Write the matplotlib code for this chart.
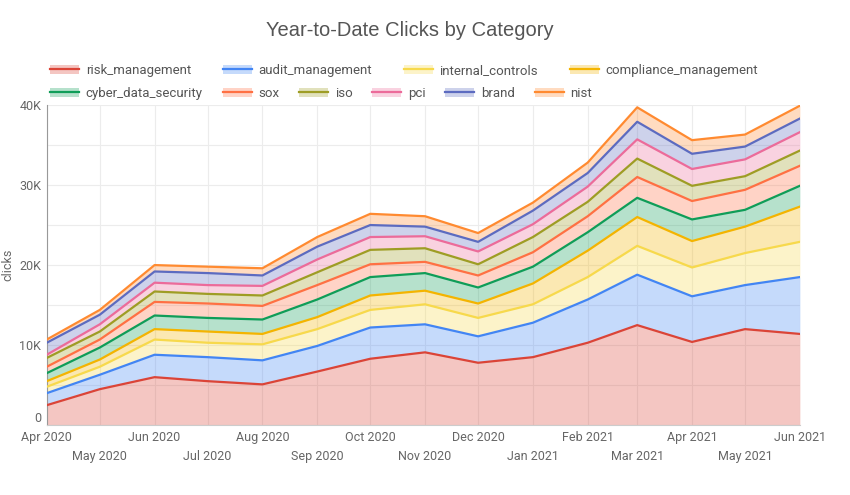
import numpy as np
import matplotlib
matplotlib.use('Agg')
import matplotlib.pyplot as plt
import matplotlib.dates as mdates
import pandas as pd
from matplotlib.patches import Patch
from matplotlib.lines import Line2D
from matplotlib.ticker import FixedLocator, FuncFormatter

# monthly points, Apr 2020 - Jun 2021
months = pd.date_range('2020-04-01', '2021-06-01', freq='MS')

categories = ['risk_management', 'audit_management', 'internal_controls',
              'compliance_management', 'cyber_data_security', 'sox', 'iso',
              'pci', 'brand', 'nist']

# clicks per category
risk_management = [2500, 4500, 6000, 5500, 5100, 6700, 8300, 9100, 7800, 8500, 10300, 12500, 10400, 12000, 11400]
audit_management = [1500, 1800, 2800, 3000, 3000, 3200, 3900, 3500, 3300, 4300, 5400, 6300, 5700, 5500, 7100]
internal_controls = [800, 1000, 1900, 1800, 2000, 2100, 2200, 2500, 2300, 2300, 2800, 3600, 3600, 4000, 4400]
compliance_management = [700, 900, 1300, 1400, 1300, 1500, 1800, 1700, 1800, 2600, 3300, 3600, 3300, 3300, 4400]
cyber_data_security = [1000, 1500, 1700, 1700, 1800, 2200, 2300, 2200, 2000, 2100, 2300, 2400, 2700, 2100, 2600]
sox = [800, 1000, 1700, 1800, 1700, 1800, 1600, 1400, 1500, 1800, 2000, 2600, 2300, 2500, 2500]
iso = [1100, 1000, 1300, 1200, 1300, 1600, 1800, 1700, 1400, 1900, 1800, 2300, 1900, 1700, 1900]
pci = [400, 900, 1100, 1100, 1200, 1600, 1600, 1500, 1600, 1600, 1900, 2400, 2100, 2100, 2300]
brand = [1500, 1200, 1400, 1500, 1300, 1600, 1500, 1200, 1200, 1700, 1700, 2200, 1900, 1600, 1700]
nist = [400, 600, 800, 800, 900, 1200, 1400, 1300, 1100, 1000, 1300, 1800, 1700, 1500, 1600]

series = [risk_management, audit_management, internal_controls, compliance_management,
          cyber_data_security, sox, iso, pci, brand, nist]

colors = ['#db4437', '#4285f4', '#f7d94c', '#f4b400', '#0f9d58',
          '#ff7043', '#9e9d24', '#ec6b9a', '#5c6bc0', '#ff8a30']

plt.rcParams['font.family'] = ['Roboto', 'DejaVu Sans']

fig = plt.figure(figsize=(8.5, 4.95), dpi=100)
ax = fig.add_axes([0.055, 0.141, 0.886, 0.647])

x = mdates.date2num(months)
data = np.array(series, dtype=float)
cum = np.cumsum(data, axis=0)
bottom = np.zeros(len(x))
for i in range(len(categories)):
    ax.fill_between(x, bottom, cum[i], color=colors[i], alpha=0.3, linewidth=0, zorder=2)
    ax.plot(x, cum[i], color=colors[i], linewidth=1.6, zorder=3)
    bottom = cum[i]

ax.set_xlim(x[0], x[-1])
ax.set_ylim(0, 40000)

# grid
ax.yaxis.set_major_locator(FixedLocator([0, 10000, 20000, 30000, 40000]))
ax.yaxis.set_minor_locator(FixedLocator([5000, 15000, 25000, 35000]))
ax.yaxis.set_major_formatter(FuncFormatter(lambda v, p: '0' if v == 0 else '%dK' % (v / 1000)))
ax.set_xticks(x)
ax.set_xticklabels([('' if i % 2 == 0 else '\n') + m.strftime('%b %Y') for i, m in enumerate(months)],
                   linespacing=1.6)
ax.grid(True, which='both', color='#ececec', linewidth=0.8, zorder=0)
ax.set_axisbelow(True)

for s in ['top', 'right']:
    ax.spines[s].set_visible(False)
ax.spines['left'].set_color('#999999')
ax.spines['bottom'].set_color('#cccccc')
ax.tick_params(axis='both', which='both', length=0, labelsize=9, colors='#666666')
ax.tick_params(axis='x', pad=4)
ax.tick_params(axis='y', pad=4)
ax.get_yticklabels()[0].set_va('bottom')  # keep "0" clear of the first date label
ax.set_ylabel('clicks', fontsize=9, color='#666666', va='center')
ax.yaxis.set_label_coords(-0.051, 0.5)

fig.text(0.482, 0.938, 'Year-to-Date Clicks by Category', ha='center', va='center',
         fontsize=14.5, color='#555555', family=['Liberation Sans', 'DejaVu Sans'])

handles = []
for c in colors:
    handles.append((Patch(facecolor=c, alpha=0.3, edgecolor='none'),
                    Line2D([], [], color=c, linewidth=1.6)))
leg = fig.legend(handles[:4], categories[:4], loc='upper left', bbox_to_anchor=(0.045, 0.895),
                 ncol=4, frameon=False, fontsize=9.5, handlelength=2.2, columnspacing=2.4,
                 handletextpad=0.5, labelcolor='#555555')
leg2 = fig.legend(handles[4:], categories[4:], loc='upper left', bbox_to_anchor=(0.045, 0.848),
                  ncol=6, frameon=False, fontsize=9.5, handlelength=2.2, columnspacing=1.5,
                  handletextpad=0.5, labelcolor='#555555')

fig.savefig('out.png', dpi=100)
